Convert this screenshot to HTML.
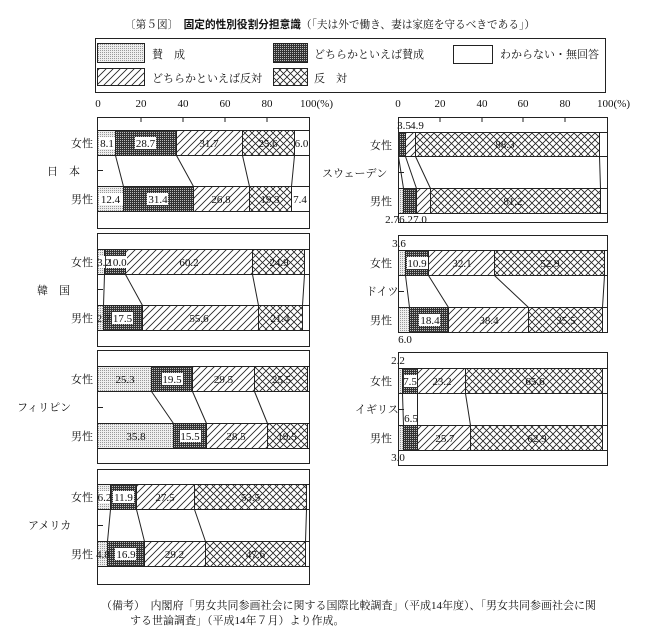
<!DOCTYPE html>
<html><head><meta charset="utf-8"><style>
html,body{margin:0;padding:0;background:#fff;}
svg{display:block;}
.j{font-family:"Liberation Serif","Noto Serif CJK SC",serif;font-size:11px;fill:#111;}
.n{font-family:"Liberation Serif",serif;font-size:11px;fill:#111;text-anchor:middle;}
.a{font-family:"Liberation Serif",serif;font-size:11px;fill:#111;}
</style></head><body>
<svg width="649" height="641" viewBox="0 0 649 641" xmlns="http://www.w3.org/2000/svg">
<defs>
<pattern id="lt" width="2" height="2" patternUnits="userSpaceOnUse"><rect width="2" height="2" fill="#eee"/><rect width="1" height="1" fill="#999"/></pattern>
<pattern id="dk" width="2" height="2" patternUnits="userSpaceOnUse"><rect width="2" height="2" fill="#333"/><rect width="1" height="1" fill="#bbb"/></pattern>
<pattern id="hc" width="7" height="7" patternUnits="userSpaceOnUse"><rect width="7" height="7" fill="#fff"/><path d="M-1,8 L8,-1 M-1,1 L1,-1 M6,8 L8,6" stroke="#222" stroke-width="0.8"/></pattern>
<pattern id="cr" width="7" height="7" patternUnits="userSpaceOnUse"><rect width="7" height="7" fill="#fff"/><path d="M-1,8 L8,-1 M-1,-1 L8,8" stroke="#222" stroke-width="0.8"/></pattern>
</defs>
<!-- title -->
<text x="125" y="28" class="j" textLength="410" lengthAdjust="spacingAndGlyphs">〔第５図〕　<tspan font-weight="bold" font-family="Liberation Sans, Noto Sans CJK SC, sans-serif">固定的性別役割分担意識</tspan>（「夫は外で働き、妻は家庭を守るべきである」）</text>
<!-- legend -->
<rect x="95.5" y="38.5" width="510" height="54" fill="#fff" stroke="#222"/>
<rect x="97.5" y="43.5" width="47" height="19" fill="url(#lt)" stroke="#222"/>
<text x="152" y="58" class="j">賛　成</text>
<rect x="273.5" y="43.5" width="34" height="19" fill="url(#dk)" stroke="#222"/>
<text x="314" y="58" class="j" font-size="11.5">どちらかといえば賛成</text>
<rect x="453.5" y="45.5" width="39" height="18" fill="#fff" stroke="#222"/>
<text x="500" y="58" class="j" font-size="12">わからない・無回答</text>
<rect x="97.5" y="68.5" width="47" height="17" fill="url(#hc)" stroke="#222"/>
<text x="152" y="82" class="j" font-size="12">どちらかといえば反対</text>
<rect x="273.5" y="68.5" width="34" height="17" fill="url(#cr)" stroke="#222"/>
<text x="314" y="82" class="j" font-size="12">反　対</text>
<!-- axes labels -->
<g class="n"><text x="98" y="107">0</text><text x="141" y="107">20</text><text x="183" y="107">40</text><text x="225" y="107">60</text><text x="267" y="107">80</text></g>
<text x="300" y="107" class="a">100(%)</text>
<g class="n"><text x="398" y="107">0</text><text x="440" y="107">20</text><text x="482" y="107">40</text><text x="523" y="107">60</text><text x="565" y="107">80</text></g>
<text x="597" y="107" class="a">100(%)</text>

<!-- panels -->
<g fill="#fff" stroke="#222" stroke-width="1">
<rect x="97.5" y="117.5" width="212" height="111"/>
<rect x="97.5" y="233.5" width="212" height="113"/>
<rect x="97.5" y="350.5" width="212" height="113"/>
<rect x="97.5" y="469.5" width="212" height="115"/>
<rect x="398.5" y="117.5" width="209" height="105"/>
<rect x="398.5" y="235.5" width="209" height="97"/>
<rect x="398.5" y="352.5" width="209" height="113"/>
</g>
<g stroke="#222" stroke-width="1">
<path d="M141,117V122M183,117V122M225,117V122M267,117V122M440,117V122M482,117V122M523,117V122M565,117V122"/>
<path d="M97,170.5H103M97,289.5H103M97,407.5H103M97,525.5H103M398,172.5H404M398,291.5H404M398,409.5H404"/>
</g>

<!-- bar backgrounds -->
<g fill="#fff" stroke="#222">
<rect x="97.5" y="130.5" width="212" height="25"/><rect x="97.5" y="186.5" width="212" height="25"/>
<rect x="97.5" y="249.5" width="212" height="25"/><rect x="97.5" y="305.5" width="212" height="25"/>
<rect x="97.5" y="366.5" width="212" height="25"/><rect x="97.5" y="423.5" width="212" height="25"/>
<rect x="97.5" y="484.5" width="212" height="25"/><rect x="97.5" y="541.5" width="212" height="25"/>
<rect x="398.5" y="132.5" width="209" height="24"/><rect x="398.5" y="188.5" width="209" height="25"/>
<rect x="398.5" y="250.5" width="209" height="25"/><rect x="398.5" y="307.5" width="209" height="25"/>
<rect x="398.5" y="368.5" width="209" height="25"/><rect x="398.5" y="425.5" width="209" height="25"/>
</g>

<g stroke="#222" stroke-width="1">
<!-- Japan -->
<rect x="97.5" y="130.5" width="18" height="25" fill="url(#lt)"/>
<rect x="115.5" y="130.5" width="61" height="25" fill="url(#dk)"/>
<rect x="176.5" y="130.5" width="66" height="25" fill="url(#hc)"/>
<rect x="242.5" y="130.5" width="52" height="25" fill="url(#cr)"/>
<rect x="97.5" y="186.5" width="26" height="25" fill="url(#lt)"/>
<rect x="123.5" y="186.5" width="70" height="25" fill="url(#dk)"/>
<rect x="193.5" y="186.5" width="56" height="25" fill="url(#hc)"/>
<rect x="249.5" y="186.5" width="42" height="25" fill="url(#cr)"/>
<path d="M115.5,155.5L123.5,186.5M176.5,155.5L193.5,186.5M242.5,155.5L249.5,186.5M294.5,155.5L291.5,186.5"/>
<!-- Korea -->
<rect x="97.5" y="249.5" width="7" height="25" fill="url(#lt)"/>
<rect x="104.5" y="249.5" width="21" height="25" fill="url(#dk)"/>
<rect x="125.5" y="249.5" width="127" height="25" fill="url(#hc)"/>
<rect x="252.5" y="249.5" width="52" height="25" fill="url(#cr)"/>
<rect x="97.5" y="305.5" width="6" height="25" fill="url(#lt)"/>
<rect x="103.5" y="305.5" width="39" height="25" fill="url(#dk)"/>
<rect x="142.5" y="305.5" width="116" height="25" fill="url(#hc)"/>
<rect x="258.5" y="305.5" width="44" height="25" fill="url(#cr)"/>
<path d="M104.5,274.5L103.5,305.5M125.5,274.5L142.5,305.5M252.5,274.5L258.5,305.5M304.5,274.5L302.5,305.5"/>
<!-- Philippines -->
<rect x="97.5" y="366.5" width="54" height="25" fill="url(#lt)"/>
<rect x="151.5" y="366.5" width="41" height="25" fill="url(#dk)"/>
<rect x="192.5" y="366.5" width="62" height="25" fill="url(#hc)"/>
<rect x="254.5" y="366.5" width="53" height="25" fill="url(#cr)"/>
<rect x="97.5" y="423.5" width="76" height="25" fill="url(#lt)"/>
<rect x="173.5" y="423.5" width="33" height="25" fill="url(#dk)"/>
<rect x="206.5" y="423.5" width="61" height="25" fill="url(#hc)"/>
<rect x="267.5" y="423.5" width="40" height="25" fill="url(#cr)"/>
<path d="M151.5,391.5L173.5,423.5M192.5,391.5L206.5,423.5M254.5,391.5L267.5,423.5"/>
<!-- America -->
<rect x="97.5" y="484.5" width="13" height="25" fill="url(#lt)"/>
<rect x="110.5" y="484.5" width="26" height="25" fill="url(#dk)"/>
<rect x="136.5" y="484.5" width="58" height="25" fill="url(#hc)"/>
<rect x="194.5" y="484.5" width="112" height="25" fill="url(#cr)"/>
<rect x="97.5" y="541.5" width="10" height="25" fill="url(#lt)"/>
<rect x="107.5" y="541.5" width="37" height="25" fill="url(#dk)"/>
<rect x="144.5" y="541.5" width="61" height="25" fill="url(#hc)"/>
<rect x="205.5" y="541.5" width="100" height="25" fill="url(#cr)"/>
<path d="M110.5,509.5L107.5,541.5M136.5,509.5L144.5,541.5M194.5,509.5L205.5,541.5M306.5,509.5L305.5,541.5"/>
<!-- Sweden -->
<rect x="398.5" y="132.5" width="7" height="24" fill="url(#dk)"/>
<rect x="405.5" y="132.5" width="10" height="24" fill="url(#hc)"/>
<rect x="415.5" y="132.5" width="184" height="24" fill="url(#cr)"/>
<rect x="398.5" y="188.5" width="5" height="25" fill="url(#lt)"/>
<rect x="403.5" y="188.5" width="13" height="25" fill="url(#dk)"/>
<rect x="416.5" y="188.5" width="14" height="25" fill="url(#hc)"/>
<rect x="430.5" y="188.5" width="170" height="25" fill="url(#cr)"/>
<path d="M398.5,156.5L403.5,188.5M405.5,156.5L416.5,188.5M415.5,156.5L430.5,188.5M599.5,156.5L600.5,188.5"/>
<!-- Germany -->
<rect x="398.5" y="250.5" width="7" height="25" fill="url(#lt)"/>
<rect x="405.5" y="250.5" width="23" height="25" fill="url(#dk)"/>
<rect x="428.5" y="250.5" width="66" height="25" fill="url(#hc)"/>
<rect x="494.5" y="250.5" width="110" height="25" fill="url(#cr)"/>
<rect x="398.5" y="307.5" width="11" height="25" fill="url(#lt)"/>
<rect x="409.5" y="307.5" width="39" height="25" fill="url(#dk)"/>
<rect x="448.5" y="307.5" width="80" height="25" fill="url(#hc)"/>
<rect x="528.5" y="307.5" width="74" height="25" fill="url(#cr)"/>
<path d="M405.5,275.5L409.5,307.5M428.5,275.5L448.5,307.5M494.5,275.5L528.5,307.5M604.5,275.5L602.5,307.5"/>
<!-- UK -->
<rect x="398.5" y="368.5" width="4" height="25" fill="url(#lt)"/>
<rect x="402.5" y="368.5" width="15" height="25" fill="url(#dk)"/>
<rect x="417.5" y="368.5" width="48" height="25" fill="url(#hc)"/>
<rect x="465.5" y="368.5" width="137" height="25" fill="url(#cr)"/>
<rect x="398.5" y="425.5" width="5" height="25" fill="url(#lt)"/>
<rect x="403.5" y="425.5" width="14" height="25" fill="url(#dk)"/>
<rect x="417.5" y="425.5" width="53" height="25" fill="url(#hc)"/>
<rect x="470.5" y="425.5" width="132" height="25" fill="url(#cr)"/>
<path d="M402.5,393.5L403.5,425.5M417.5,393.5L417.5,425.5M465.5,393.5L470.5,425.5M602.5,393.5L602.5,425.5"/>
</g>

<!-- white label boxes on dark -->
<g fill="#fff">
<rect x="135" y="137" width="21" height="12"/><rect x="147" y="193" width="21" height="12"/>
<rect x="106" y="256" width="21" height="12"/><rect x="112" y="312" width="21" height="12"/>
<rect x="162" y="373" width="21" height="12"/><rect x="180" y="430" width="21" height="12"/>
<rect x="113" y="491" width="21" height="12"/><rect x="115" y="548" width="21" height="12"/>
<rect x="407" y="257" width="21" height="12"/><rect x="419" y="314" width="21" height="12"/>
<rect x="404" y="375" width="13" height="12"/>
<rect x="99" y="256" width="6" height="12"/><rect x="99" y="491" width="11" height="12"/>
<rect x="99" y="137" width="16" height="12"/><rect x="99" y="193" width="24" height="12"/>
</g>
<!-- value labels -->
<g class="n">
<text x="107" y="147">8.1</text><text x="145.5" y="147">28.7</text><text x="209" y="147">31.7</text><text x="268" y="147">25.6</text><text x="301.5" y="147">6.0</text>
<text x="110.5" y="203">12.4</text><text x="158" y="203">31.4</text><text x="221" y="203">26.8</text><text x="270" y="203">19.3</text><text x="300" y="203">7.4</text>
<text x="104" y="266">3.2</text><text x="117" y="266">10.0</text><text x="189" y="266">60.2</text><text x="279" y="266">24.9</text>
<text x="103.5" y="322">2.7</text><text x="122.5" y="322">17.5</text><text x="199" y="322">55.6</text><text x="280" y="322">21.4</text>
<text x="125" y="383">25.3</text><text x="172" y="383">19.5</text><text x="223.5" y="383">29.5</text><text x="281.5" y="383">25.5</text>
<text x="136" y="440">35.8</text><text x="190" y="440">15.5</text><text x="236" y="440">28.5</text><text x="287" y="440">19.5</text>
<text x="104.5" y="501">6.2</text><text x="123.5" y="501">11.9</text><text x="165" y="501">27.5</text><text x="250.5" y="501">53.5</text>
<text x="103" y="558">4.8</text><text x="126" y="558">16.9</text><text x="174.5" y="558">29.2</text><text x="255.5" y="558">47.6</text>
<text x="404" y="129">3.5</text><text x="417" y="129">4.9</text><text x="505" y="148">88.3</text>
<text x="513" y="205">81.2</text>
<text x="399" y="247">3.6</text><text x="417" y="267">10.9</text><text x="462" y="267">32.1</text><text x="550" y="267">52.9</text>
<text x="430" y="324">18.4</text><text x="489" y="324">38.4</text><text x="566" y="324">35.5</text><text x="405" y="343">6.0</text>
<text x="398" y="364">2.2</text><text x="410" y="385">7.5</text><text x="442" y="385">23.2</text><text x="535" y="385">65.6</text>
<text x="411" y="422">6.5</text><text x="445" y="442">25.7</text><text x="537" y="442">62.9</text><text x="398" y="461">3.0</text>
</g>
<g class="n" font-size="10"><text x="392" y="223">2.7</text><text x="406" y="223">6.2</text><text x="420" y="223">7.0</text></g>
<!-- category labels -->
<g class="j" font-size="12" text-anchor="end">
<text x="93" y="147">女性</text><text x="93" y="203">男性</text>
<text x="93" y="266">女性</text><text x="93" y="322">男性</text>
<text x="93" y="383">女性</text><text x="93" y="440">男性</text>
<text x="93" y="501">女性</text><text x="93" y="558">男性</text>
<text x="392" y="149">女性</text><text x="392" y="205">男性</text>
<text x="392" y="267">女性</text><text x="392" y="324">男性</text>
<text x="392" y="385">女性</text><text x="392" y="442">男性</text>
</g>
<g class="j" font-size="11">
<text x="47" y="175">日　本</text>
<text x="37" y="294">韓　国</text>
<text x="17" y="411">フィリピン</text>
<text x="28" y="529">アメリカ</text>
<text x="322" y="177">スウェーデン</text>
<text x="366" y="295">ドイツ</text>
<text x="355" y="413">イギリス</text>
</g>
<!-- footnote -->
<text x="101" y="609" class="j" font-size="10.5">（備考）　内閣府「男女共同参画社会に関する国際比較調査」（平成14年度）、「男女共同参画社会に関</text>
<text x="130" y="624" class="j" font-size="10.5">する世論調査」（平成14年７月）より作成。</text>
</svg>
</body></html>
